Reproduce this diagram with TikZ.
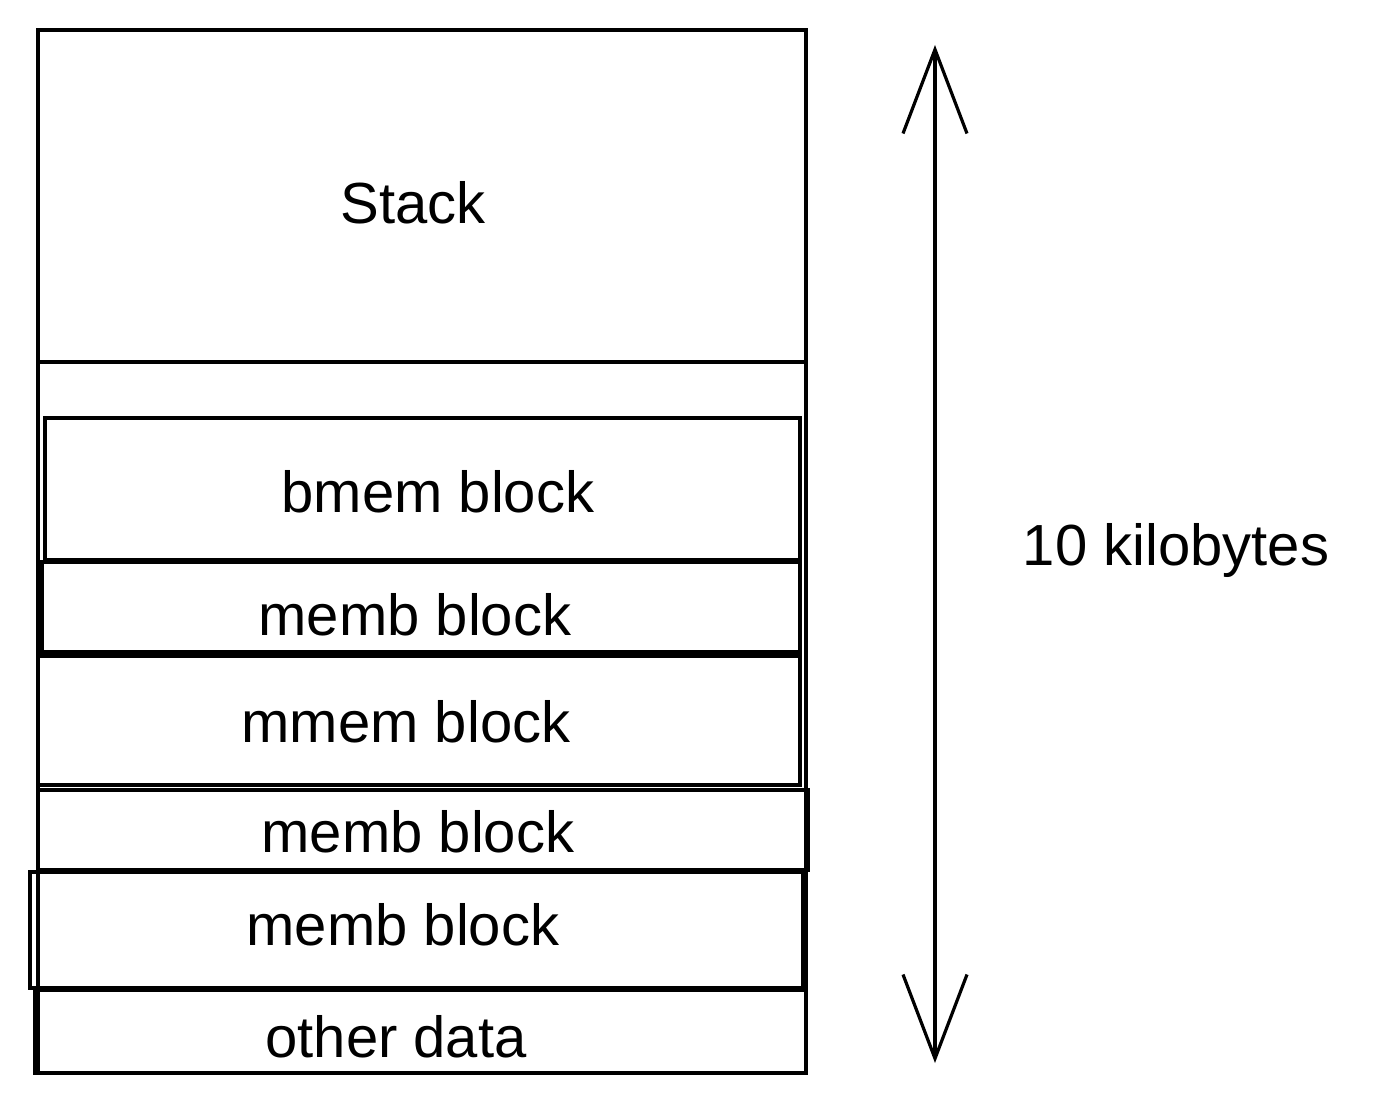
\documentclass[tikz,border=0pt]{standalone}
\usepackage{fontspec}
\setmainfont{Liberation Sans}
\usetikzlibrary{arrows.meta}
\begin{document}
\begin{tikzpicture}[x=1pt,y=-1pt,
  box/.style={draw, line width=3.4pt, inner sep=0pt},
  lbl/.style={font=\fontsize{58}{64}\selectfont, inner sep=0pt}]
\fill[white] (0,0) rectangle (1379,1105);
\useasboundingbox (0,0) rectangle (1379,1105);
% outer memory region
\node[box, minimum width=768, minimum height=1043] (mem) at (422,551.5) {};
% blocks
\node[box, minimum width=768, minimum height=332] (stack) at (422,196) {};
\node[box, minimum width=755, minimum height=142] (bmem) at (422.5,489) {};
\node[box, minimum width=758, minimum height=90]  (memba) at (421,607) {};
\node[box, minimum width=762, minimum height=129] (mmem) at (419,720.5) {};
\node[box, minimum width=770, minimum height=80]  (membb) at (423,830) {};
\node[box, minimum width=773, minimum height=116] (membc) at (416.5,930) {};
\node[box, minimum width=771, minimum height=83]  (other) at (420.5,1031.5) {};
% labels
\node[lbl] (tstack) at (413,203) {Stack};
\node[lbl] (tbmem) at (438,492) {bmem block};
\node[lbl] (tmemba) at (415,615) {memb block};
\node[lbl] (tmmem) at (406,722) {mmem block};
\node[lbl] (tmembb) at (418,832) {memb block};
\node[lbl] (tmembc) at (403,925) {memb block};
\node[lbl] (tother) at (396,1037) {other data};
\node[lbl] (tsize) at (1176,550) {10 kilobytes};
% size arrow
\coordinate (atop) at (935,45);
\coordinate (abot) at (935,1063);
\draw[line width=3.2pt, {Straight Barb[length=84pt,width=64pt]}-{Straight Barb[length=84pt,width=64pt]}] (atop) -- (abot);
\end{tikzpicture}
\end{document}
